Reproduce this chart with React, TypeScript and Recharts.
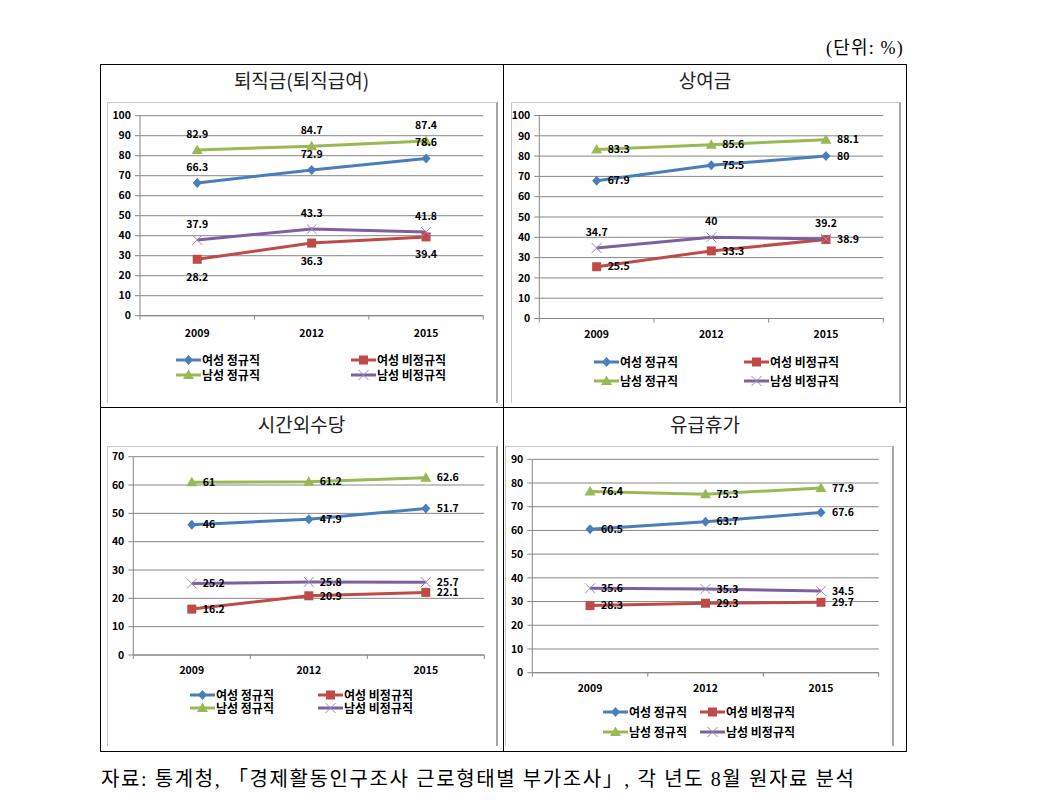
import React from 'react';
import { LineChart, Line, XAxis, YAxis, CartesianGrid, LabelList } from 'recharts';

const years = ['2009', '2012', '2015'];
const seriesNames = ['여성 정규직', '여성 비정규직', '남성 정규직', '남성 비정규직'];
const seriesKeys = ['femaleRegular', 'femaleNonRegular', 'maleRegular', 'maleNonRegular'];
const panelTitles = ['퇴직금(퇴직급여)', '상여금', '시간외수당', '유급휴가'];

// 퇴직금(퇴직급여)
const severanceFemaleRegular = [66.3, 72.9, 78.6];
const severanceFemaleNonRegular = [28.2, 36.3, 39.4];
const severanceMaleRegular = [82.9, 84.7, 87.4];
const severanceMaleNonRegular = [37.9, 43.3, 41.8];

// 상여금
const bonusFemaleRegular = [67.9, 75.5, 80];
const bonusFemaleNonRegular = [25.5, 33.3, 38.9];
const bonusMaleRegular = [83.3, 85.6, 88.1];
const bonusMaleNonRegular = [34.7, 40, 39.2];

// 시간외수당
const overtimeFemaleRegular = [46, 47.9, 51.7];
const overtimeFemaleNonRegular = [16.2, 20.9, 22.1];
const overtimeMaleRegular = [61, 61.2, 62.6];
const overtimeMaleNonRegular = [25.2, 25.8, 25.7];

// 유급휴가
const leaveFemaleRegular = [60.5, 63.7, 67.6];
const leaveFemaleNonRegular = [28.3, 29.3, 29.7];
const leaveMaleRegular = [76.4, 75.3, 77.9];
const leaveMaleNonRegular = [35.6, 35.3, 34.5];

const yTicksTo100 = [0, 10, 20, 30, 40, 50, 60, 70, 80, 90, 100];
const yTicksTo70 = [0, 10, 20, 30, 40, 50, 60, 70];
const yTicksTo90 = [0, 10, 20, 30, 40, 50, 60, 70, 80, 90];

const unitLabel = '(단위: %)';
const sourceNote = '자료: 통계청, 「경제활동인구조사 근로형태별 부가조사」, 각 년도 8월 원자료 분석';

const buildRows = (series: number[][]) =>
  years.map((year, i) => {
    const row: Record<string, string | number> = { year };
    seriesKeys.forEach((key, s) => {
      row[key] = series[s][i];
    });
    return row;
  });

const FONT = '"Noto Sans CJK KR", "Noto Sans", sans-serif';
const SERIF = '"Liberation Serif", "Noto Sans CJK KR", serif';
const AXIS_GRAY = '#868686';

type MarkerShape = 'diamond' | 'square' | 'triangle' | 'cross';
const seriesColors = ['#4a7ebb', '#be4b48', '#98b954', '#7d60a0'];
const seriesMarkers: MarkerShape[] = ['diamond', 'square', 'triangle', 'cross'];

const Marker = ({ shape, cx, cy, color }: { shape: MarkerShape; cx: number; cy: number; color: string }) => {
  if (shape === 'diamond') {
    return <polygon points={`${cx},${cy - 5} ${cx + 4.5},${cy} ${cx},${cy + 5} ${cx - 4.5},${cy}`} fill={color} />;
  }
  if (shape === 'square') {
    return <rect x={cx - 4.5} y={cy - 4.5} width={9} height={9} fill={color} />;
  }
  if (shape === 'triangle') {
    return <polygon points={`${cx},${cy - 5.5} ${cx + 5.5},${cy + 4} ${cx - 5.5},${cy + 4}`} fill={color} />;
  }
  return (
    <g stroke="#9b87bd" strokeWidth={1}>
      <line x1={cx - 5} y1={cy - 5} x2={cx + 5} y2={cy + 5} />
      <line x1={cx - 5} y1={cy + 5} x2={cx + 5} y2={cy - 5} />
    </g>
  );
};

type LabelPlace = 'top' | 'bottom' | 'right';

type Panel = {
  title: string;
  rows: Record<string, string | number>[];
  ticks: number[];
  cell: { left: number; top: number; width: number; height: number };
  titleY: number;
  box: { left: number; top: number; right: number; bottom: number };
  plot: { left: number; top: number; right: number; bottom: number };
  xLabelDy: number;
  labels: LabelPlace[];
  legend: { rows: number[]; cols: number[] };
};

const panels: Panel[] = [
  {
    title: panelTitles[0],
    rows: buildRows([severanceFemaleRegular, severanceFemaleNonRegular, severanceMaleRegular, severanceMaleNonRegular]),
    ticks: yTicksTo100,
    cell: { left: 100, top: 64, width: 403, height: 343 },
    titleY: 80,
    box: { left: 107, top: 102, right: 497, bottom: 402 },
    plot: { left: 140, top: 115.7, right: 483.3, bottom: 315.7 },
    xLabelDy: 17,
    labels: ['top', 'bottom', 'top', 'top'],
    legend: { rows: [360, 375], cols: [176, 351] },
  },
  {
    title: panelTitles[1],
    rows: buildRows([bonusFemaleRegular, bonusFemaleNonRegular, bonusMaleRegular, bonusMaleNonRegular]),
    ticks: yTicksTo100,
    cell: { left: 503, top: 64, width: 404, height: 343 },
    titleY: 80,
    box: { left: 511, top: 102, right: 900, bottom: 402 },
    plot: { left: 539.3, top: 115.5, right: 883.3, bottom: 318.5 },
    xLabelDy: 15,
    labels: ['right', 'right', 'right', 'top'],
    legend: { rows: [362, 381], cols: [594, 744] },
  },
  {
    title: panelTitles[2],
    rows: buildRows([overtimeFemaleRegular, overtimeFemaleNonRegular, overtimeMaleRegular, overtimeMaleNonRegular]),
    ticks: yTicksTo70,
    cell: { left: 100, top: 407, width: 403, height: 345 },
    titleY: 424,
    box: { left: 107, top: 446, right: 497, bottom: 745 },
    plot: { left: 133.3, top: 456.7, right: 484.3, bottom: 655 },
    xLabelDy: 14.5,
    labels: ['right', 'right', 'right', 'right'],
    legend: { rows: [695, 708], cols: [190, 318] },
  },
  {
    title: panelTitles[3],
    rows: buildRows([leaveFemaleRegular, leaveFemaleNonRegular, leaveMaleRegular, leaveMaleNonRegular]),
    ticks: yTicksTo90,
    cell: { left: 503, top: 407, width: 404, height: 345 },
    titleY: 424,
    box: { left: 505, top: 446, right: 893, bottom: 745 },
    plot: { left: 532.3, top: 459.3, right: 878.7, bottom: 672.7 },
    xLabelDy: 14.5,
    labels: ['right', 'right', 'right', 'right'],
    legend: { rows: [712, 732], cols: [603, 700] },
  },
];

const labelOffset: Record<LabelPlace, number> = { top: 12, bottom: 14, right: 11 };

const makeXTick = (band: number, dy: number) => (props: any) => {
  const { x, y, payload, index } = props;
  const last = index === years.length - 1;
  return (
    <g>
      <line x1={x - band / 2} x2={x - band / 2} y1={y} y2={y + 4} stroke={AXIS_GRAY} />
      {last && <line x1={x + band / 2} x2={x + band / 2} y1={y} y2={y + 4} stroke={AXIS_GRAY} />}
      <text
        x={x}
        y={y + dy}
        textAnchor="middle"
        dominantBaseline="central"
        fontFamily={FONT}
        fontSize={10.5}
        fontWeight={700}
        fill="#000"
      >
        {payload.value}
      </text>
    </g>
  );
};

const PanelChart = ({ panel }: { panel: Panel }) => {
  const { box, plot } = panel;
  const width = box.right - box.left;
  const plotWidth = plot.right - plot.left;
  const band = plotWidth / years.length;
  const xAxisHeight = 30;
  const height = plot.bottom - box.top + xAxisHeight;

  return (
    <>
      <div
        style={{
          position: 'absolute',
          left: panel.cell.left,
          top: panel.titleY - 14,
          width: panel.cell.width,
          height: 28,
          lineHeight: '28px',
          textAlign: 'center',
          fontFamily: FONT,
          fontSize: 19,
          color: '#222',
        }}
      >
        {panel.title}
      </div>
      <div
        style={{
          position: 'absolute',
          left: box.left,
          top: box.top,
          width: width - 2,
          height: box.bottom - box.top,
          borderTop: '1px solid #c8c8c8',
          borderLeft: '1px solid #c8c8c8',
          borderRight: '2px solid #a6a6a6',
        }}
      />
      <div style={{ position: 'absolute', left: box.left, top: box.top }}>
        <LineChart
          width={width}
          height={height}
          data={panel.rows}
          margin={{ top: plot.top - box.top, right: box.right - plot.right, left: 0, bottom: 0 }}
        >
          <CartesianGrid vertical={false} stroke={AXIS_GRAY} />
          <XAxis
            dataKey="year"
            height={xAxisHeight}
            padding={{ left: band / 2, right: band / 2 }}
            axisLine={{ stroke: AXIS_GRAY }}
            tickLine={false}
            tickSize={0}
            tickMargin={0}
            interval={0}
            tick={makeXTick(band, panel.xLabelDy)}
          />
          <YAxis
            type="number"
            width={plot.left - box.left}
            domain={[0, panel.ticks[panel.ticks.length - 1]]}
            ticks={panel.ticks}
            interval={0}
            axisLine={{ stroke: AXIS_GRAY }}
            tickLine={{ stroke: AXIS_GRAY }}
            tickSize={5}
            tickMargin={4}
            tick={{ fill: '#000', fontSize: 10.5, fontWeight: 700, fontFamily: FONT }}
          />
          {seriesKeys.map((key, s) => (
            <Line
              key={key}
              dataKey={key}
              name={seriesNames[s]}
              type="linear"
              stroke={seriesColors[s]}
              strokeWidth={3}
              isAnimationActive={false}
              dot={(p: any) => (
                <Marker key={`${key}-${p.index}`} shape={seriesMarkers[s]} cx={p.cx} cy={p.cy} color={seriesColors[s]} />
              )}
              activeDot={false}
            >
              <LabelList
                dataKey={key}
                position={panel.labels[s]}
                offset={labelOffset[panel.labels[s]]}
                fill="#000"
                fontSize={10.5}
                fontWeight={700}
                fontFamily={FONT}
              />
            </Line>
          ))}
        </LineChart>
      </div>
      {seriesNames.map((name, s) => {
        const left = panel.legend.cols[s % 2];
        const cy = panel.legend.rows[Math.floor(s / 2)];
        return (
          <div
            key={name}
            style={{ position: 'absolute', left, top: cy - 8, height: 16, display: 'flex', alignItems: 'center' }}
          >
            <svg width={25} height={16}>
              <line x1={0} x2={25} y1={8} y2={8} stroke={seriesColors[s]} strokeWidth={3} />
              <Marker shape={seriesMarkers[s]} cx={12.5} cy={8} color={seriesColors[s]} />
            </svg>
            <span
              style={{
                marginLeft: 1,
                fontFamily: FONT,
                fontSize: 12,
                fontWeight: 700,
                color: '#000',
                whiteSpace: 'nowrap',
                lineHeight: '16px',
              }}
            >
              {name}
            </span>
          </div>
        );
      })}
    </>
  );
};

export default function App() {
  return (
    <div style={{ position: 'absolute', left: 0, top: 0, width: 1039, height: 802, background: '#fff' }}>
      <div
        style={{
          position: 'absolute',
          right: 1039 - 904,
          top: 36,
          fontFamily: SERIF,
          fontSize: 18,
          letterSpacing: 1.2,
          lineHeight: '24px',
          color: '#000',
          whiteSpace: 'nowrap',
        }}
      >
        {unitLabel}
      </div>
      <div
        style={{
          position: 'absolute',
          left: 100,
          top: 64,
          width: 807,
          height: 688,
          border: '1px solid #000',
          boxSizing: 'border-box',
        }}
      />
      <div style={{ position: 'absolute', left: 503, top: 64, width: 1, height: 688, background: '#000' }} />
      <div style={{ position: 'absolute', left: 100, top: 407, width: 807, height: 1, background: '#000' }} />
      {panels.map((panel) => (
        <PanelChart key={panel.title} panel={panel} />
      ))}
      <div
        style={{
          position: 'absolute',
          left: 101,
          top: 765,
          fontFamily: SERIF,
          fontSize: 20,
          letterSpacing: 1.6,
          lineHeight: '28px',
          color: '#000',
          whiteSpace: 'nowrap',
        }}
      >
        {sourceNote}
      </div>
    </div>
  );
}
